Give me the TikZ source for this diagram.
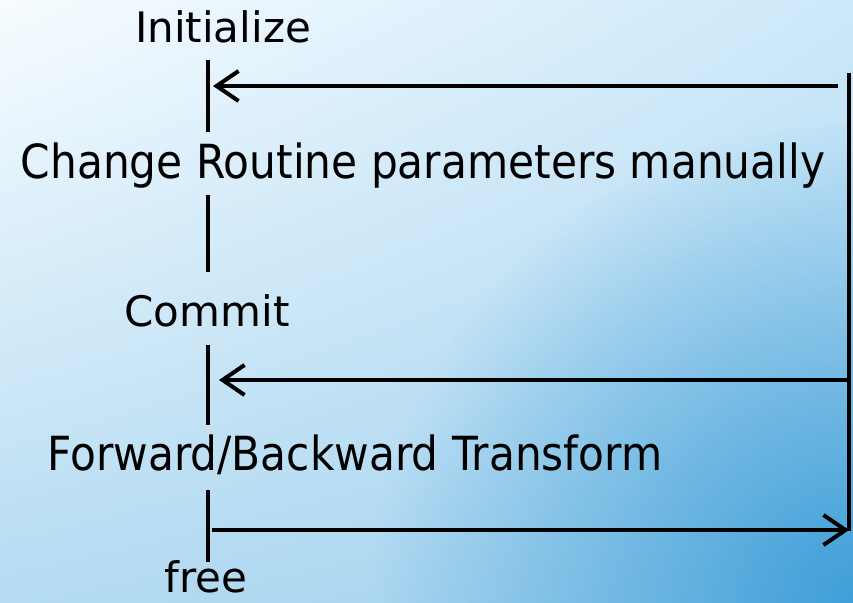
\documentclass[tikz,border=0pt]{standalone}
\usepackage{fontspec}
\setmainfont{DejaVu Sans}
\newfontfamily\narrowfont[FakeStretch=0.9]{DejaVu Sans}
\usetikzlibrary{arrows.meta,fadings,shadings}
\definecolor{bgtl}{HTML}{F7FCFF}
\definecolor{bgtr}{HTML}{CCE8F9}
\definecolor{bgbl}{HTML}{B4DBF2}
\definecolor{bgbr}{HTML}{A2D1EE}
\definecolor{bgdeep}{HTML}{3F9FD8}
\tikzfading[name=glow,inner color=transparent!0,outer color=transparent!100]
\begin{document}
\begin{tikzpicture}[x=1pt,y=-1pt,
  lbl/.style={anchor=base,inner sep=0pt,font=\fontsize{42}{50}\selectfont},
  wide/.style={anchor=base,inner sep=0pt,font=\fontsize{47}{56}\narrowfont},
  ln/.style={line width=4pt},
  arr/.style={ln,-{Straight Barb[length=22pt,width=30pt]}}]
\useasboundingbox (0,0) rectangle (853,602);
\clip (0,0) rectangle (853,602);
% background
\shade[upper left=bgtl,upper right=bgtr,lower left=bgbl,lower right=bgbr] (0,0) rectangle (853,602);
\fill[bgdeep,path fading=glow] (853,602) circle (480);
% labels
\node[lbl] (init) at (223,43) {Initialize};
\node[wide] (change) at (423,178) {Change Routine parameters manually};
\node[lbl] (commit) at (207,326) {Commit};
\node[wide] (fwd) at (355,470) {Forward/Backward Transform};
\node[lbl] (free) at (206,592) {free};
% spine
\coordinate (a1) at (208,60);  \coordinate (a2) at (208,132);
\coordinate (b1) at (208,195); \coordinate (b2) at (208,272);
\coordinate (c1) at (208,345); \coordinate (c2) at (208,425);
\coordinate (d1) at (208,490); \coordinate (d2) at (208,562);
\draw[ln] (a1) -- (a2);
\draw[ln] (b1) -- (b2);
\draw[ln] (c1) -- (c2);
\draw[ln] (d1) -- (d2);
% loop back
\coordinate (r1) at (849,73); \coordinate (r2) at (849,531);
\coordinate (t1) at (838,86); \coordinate (t2) at (213,86);
\coordinate (m1) at (849,380); \coordinate (m2) at (219,380);
\coordinate (f1) at (212,530); \coordinate (f2) at (849,530);
\draw[ln] (r1) -- (r2);
\draw[arr] (t1) -- (t2);
\draw[arr] (m1) -- (m2);
\draw[arr] (f1) -- (f2);
\end{tikzpicture}
\end{document}
